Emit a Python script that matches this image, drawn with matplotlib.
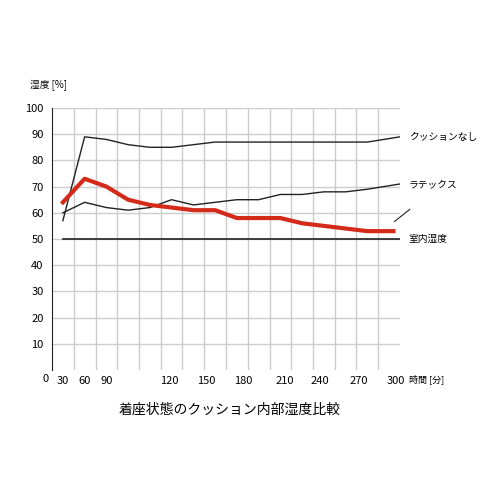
import matplotlib
matplotlib.use("Agg")
import matplotlib.pyplot as plt

plt.rcParams['font.family'] = ['Noto Sans CJK JP', 'DejaVu Sans']

# x in grid units (16 units across the axis)
x_pts = [0.5, 1.5, 2.5, 3.5, 4.5, 5.5, 6.5, 7.5, 8.5, 9.5, 10.5, 11.5, 12.5, 13.5, 14.5, 16.0]
cushion_none = [57, 89, 88, 86, 85, 85, 86, 87, 87, 87, 87, 87, 87, 87, 87, 89]
latex = [60, 64, 62, 61, 62, 65, 63, 64, 65, 65, 67, 67, 68, 68, 69, 71]
x_red = [0.5, 1.5, 2.5, 3.5, 4.5, 5.5, 6.5, 7.5, 8.5, 9.5, 10.5, 11.5, 12.5, 13.5, 14.5, 15.7]
inner = [64, 73, 70, 65, 63, 62, 61, 61, 58, 58, 58, 56, 55, 54, 53, 53]
room = [50, 50]
x_room = [0.5, 16.0]
xtick_pos = [0.5, 1.5, 2.5, 5.4, 7.1, 8.8, 10.7, 12.3, 14.1, 15.8]
xtick_lab = ['30', '60', '90', '120', '150', '180', '210', '240', '270', '300']

fig = plt.figure(figsize=(5, 5), dpi=100)
ax = fig.add_axes([0.104, 0.26, 0.696, 0.524])
ax.set_xlim(0, 16)
ax.set_ylim(0, 100)
for u in range(1, 16):
    ax.axvline(u, color='#cccccc', lw=1, zorder=0)
for v in range(10, 101, 10):
    ax.axhline(v, color='#cccccc', lw=1, zorder=0)
for s in ['top', 'right', 'bottom']:
    ax.spines[s].set_visible(False)
ax.spines['left'].set_color('#222222')

ax.plot(x_pts, cushion_none, color='#222222', lw=1)
ax.plot(x_pts, latex, color='#222222', lw=1)
ax.plot(x_room, room, color='#222222', lw=1.2)
ax.plot(x_red, inner, color='#d42a1a', lw=3)
ax.plot([15.75, 16.45], [56.7, 61.3], color='#222222', lw=0.8, clip_on=False)

ax.set_yticks(range(10, 101, 10))
ax.tick_params(axis='y', length=0, labelsize=8, pad=6)
ax.set_xticks(xtick_pos)
ax.set_xticklabels(xtick_lab)
ax.tick_params(axis='x', length=0, labelsize=8, pad=4)
ax.text(-0.15, -1.5, '0', ha='right', va='top', fontsize=8, transform=ax.transData)

ax.text(16.4, 89, 'クッションなし', fontsize=7, va='center')
ax.text(16.4, 71, 'ラテックス', fontsize=7, va='center')
ax.text(16.4, 50, '室内湿度', fontsize=7, va='center')
ax.text(16.4, -1.5, '時間 [分]', fontsize=6.5, va='top')
fig.text(0.06, 0.83, '湿度 [%]', fontsize=7, va='center')
fig.text(0.46, 0.18, '着座状態のクッション内部湿度比較', fontsize=10, ha='center', va='center')

fig.savefig('out.png')
